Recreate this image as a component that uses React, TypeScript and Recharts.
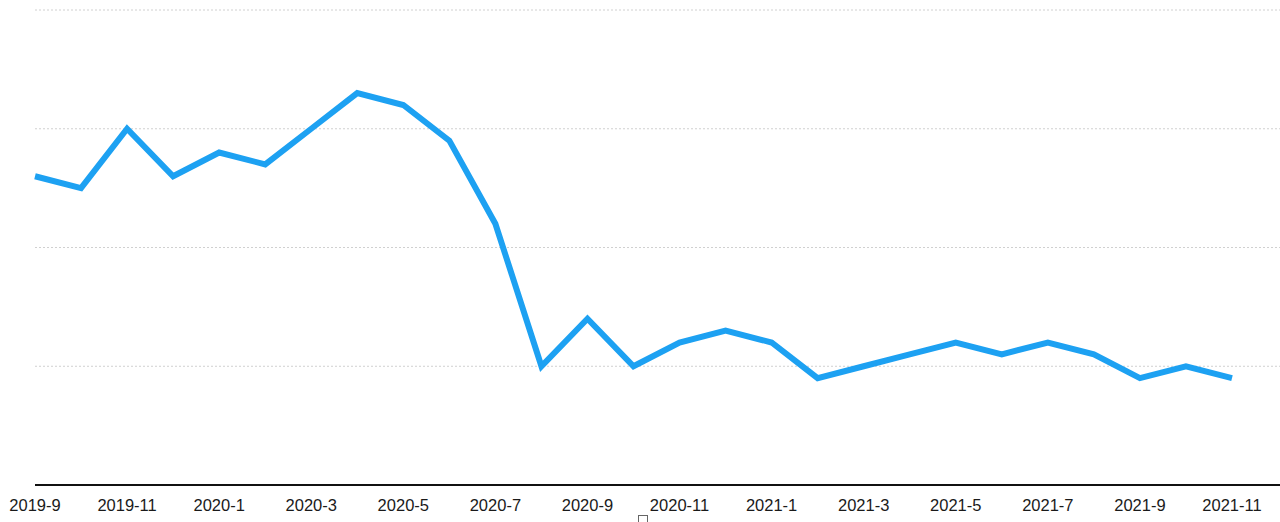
import React from 'react';
import { LineChart, Line, XAxis, YAxis, CartesianGrid } from 'recharts';

const months = [
  '2019-9', '2019-10', '2019-11', '2019-12',
  '2020-1', '2020-2', '2020-3', '2020-4', '2020-5', '2020-6',
  '2020-7', '2020-8', '2020-9', '2020-10', '2020-11', '2020-12',
  '2021-1', '2021-2', '2021-3', '2021-4', '2021-5', '2021-6',
  '2021-7', '2021-8', '2021-9', '2021-10', '2021-11',
];

const values = [
  26, 25, 30, 26,
  28, 27, 30, 33, 32, 29,
  22, 10, 14, 10, 12, 13,
  12, 9, 10, 11, 12, 11,
  12, 11, 9, 10, 9,
];

const yTicks = [0, 10, 20, 30, 40];

const data = months.map((m, i) => ({ month: m, value: values[i] }));

export default function App() {
  return (
    <div style={{ position: 'absolute', left: 0, top: 0, width: 1280, height: 522, overflow: 'hidden', background: '#fff' }}>
      <LineChart
        width={1280}
        height={522}
        data={data}
        margin={{ top: 10, right: 0, left: 35, bottom: 0 }}
      >
        <CartesianGrid vertical={false} stroke="#d0d0d0" strokeDasharray="2 2" />
        <XAxis
          dataKey="month"
          interval={1}
          tickLine={false}
          axisLine={{ stroke: '#111', strokeWidth: 2 }}
          tick={{ fill: '#1a1a1a', fontSize: 16.5, fontFamily: 'Liberation Sans, Arial, sans-serif' }}
          tickMargin={8}
          height={37}
          padding={{ left: 0, right: 48 }}
        />
        <YAxis hide domain={[0, 40]} ticks={yTicks} />
        <Line
          type="linear"
          dataKey="value"
          stroke="#1DA1F2"
          strokeWidth={6}
          dot={false}
          isAnimationActive={false}
        />
      </LineChart>
      {/* empty legend marker below the axis */}
      <div style={{ position: 'absolute', left: 638, top: 515, width: 8, height: 8, border: '1px solid #666' }} />
    </div>
  );
}
